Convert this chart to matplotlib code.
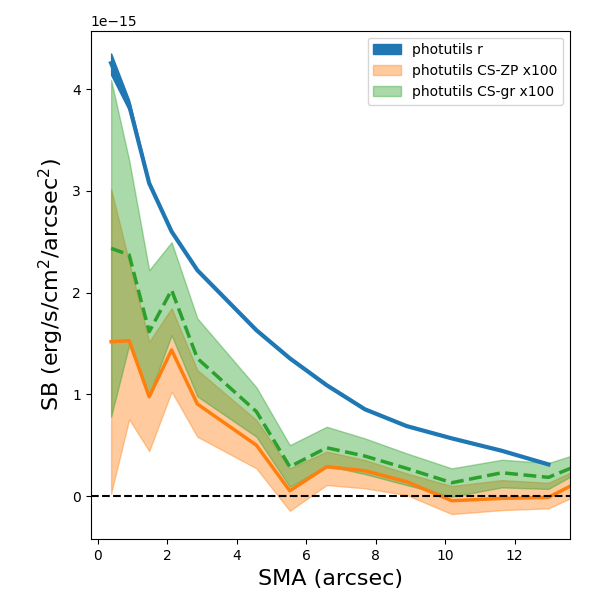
import matplotlib
matplotlib.use("Agg")
import matplotlib.pyplot as plt
import numpy as np

# SMA positions (arcsec)
sma = [0.39, 0.91, 1.485, 2.13, 2.87, 4.57, 5.53, 6.59, 7.69, 8.89, 10.19, 11.63, 12.97, 13.6]

# photutils r (units of 1e-15)
r_mid = [4.255, 3.84, 3.075, 2.60, 2.22, 1.63, 1.354, 1.09, 0.853, 0.688, 0.567, 0.445, 0.311]
r_lo = [4.14, 3.79, 3.065, 2.595, 2.215, 1.627, 1.351, 1.088, 0.851, 0.686, 0.565, 0.443, 0.309]
r_hi = [4.35, 3.89, 3.085, 2.605, 2.225, 1.633, 1.357, 1.092, 0.855, 0.690, 0.569, 0.447, 0.313]

# photutils CS-ZP x100
zp_mid = [1.517, 1.527, 0.976, 1.436, 0.905, 0.50, 0.052, 0.288, 0.249, 0.141, -0.046, -0.023, -0.013, 0.098]
zp_lo = [0.027, 0.754, 0.442, 1.026, 0.583, 0.272, -0.145, 0.108, 0.076, 0.01, -0.177, -0.138, -0.121, -0.023]
zp_hi = [3.016, 2.30, 1.517, 1.846, 1.239, 0.747, 0.272, 0.436, 0.354, 0.223, 0.098, 0.157, 0.13, 0.23]

# photutils CS-gr x100
gr_mid = [2.435, 2.37, 1.615, 2.025, 1.354, 0.83, 0.288, 0.475, 0.393, 0.272, 0.131, 0.229, 0.184, 0.272]
gr_lo = [0.78, 1.485, 0.99, 1.58, 0.98, 0.583, 0.091, 0.298, 0.216, 0.108, -0.007, 0.085, 0.07, 0.19]
gr_hi = [4.09, 3.30, 2.22, 2.495, 1.747, 1.069, 0.50, 0.681, 0.567, 0.42, 0.272, 0.357, 0.325, 0.393]

scale = 1e-15
x = np.array(sma)
xr = x[:len(r_mid)]

fig = plt.figure(figsize=(6, 6), dpi=100)
ax = fig.add_axes([0.151, 0.101, 0.799, 0.848])

h1 = ax.fill_between(xr, np.array(r_lo) * scale, np.array(r_hi) * scale, color="C0", alpha=1.0, label="photutils r")
ax.plot(xr, np.array(r_mid) * scale, color="C0", lw=3)
h2 = ax.fill_between(x, np.array(zp_lo) * scale, np.array(zp_hi) * scale, color="C1", alpha=0.4, label="photutils CS-ZP x100")
ax.plot(x, np.array(zp_mid) * scale, color="C1", lw=2.5)
h3 = ax.fill_between(x, np.array(gr_lo) * scale, np.array(gr_hi) * scale, color="C2", alpha=0.4, label="photutils CS-gr x100")
ax.plot(x, np.array(gr_mid) * scale, color="C2", lw=2.5, ls="--")

ax.axhline(0, color="black", ls="--", lw=1.5)

ax.set_xlim(-0.2, 13.59)
ax.set_ylim(-0.426e-15, 4.575e-15)
ax.set_xticks([0, 2, 4, 6, 8, 10, 12])
ax.set_xlabel("SMA (arcsec)", fontsize=16)
ax.set_ylabel("SB (erg/s/cm$^2$/arcsec$^2$)", fontsize=16)
ax.legend(handles=[h1, h2, h3], loc="upper right")

fig.savefig("out.png", dpi=100)
